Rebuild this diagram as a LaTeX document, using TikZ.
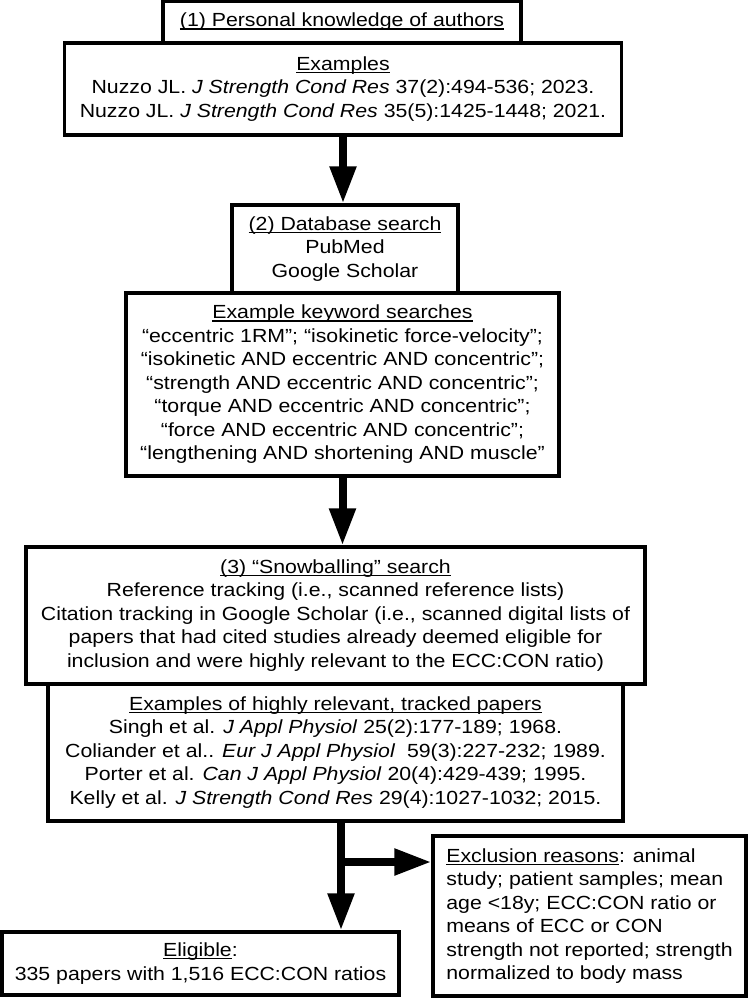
\documentclass[tikz,border=0pt]{standalone}
\usepackage{fontspec}
\setmainfont{Liberation Sans}[FakeStretch=1.12]
\newcommand\myul[1]{\setbox0\hbox{#1}\rlap{\rule[-2.6pt]{\wd0}{1.1pt}}\box0}
\usetikzlibrary{arrows.meta}
\tikzset{
  box/.style={draw, line width=3.2pt, rectangle, inner sep=0pt, align=center,
    font=\fontsize{19}{23.5}\selectfont},
  flow/.style={line width=8pt, -{Triangle[length=37pt,width=25pt]}}
}
\begin{document}
\begin{tikzpicture}[x=1pt,y=-1pt]
\useasboundingbox (0,0) rectangle (749,998);
\node[box, minimum width=358pt, minimum height=41.5pt] (b1) at (342,22)
  {\myul{(1) Personal knowledge of authors}};
\node[box, minimum width=557pt, minimum height=92pt] (b1b) at (343,89)
  {\myul{Examples}\\
   Nuzzo JL. \textit{J Strength Cond Res} 37(2):494-536; 2023.\\
   Nuzzo JL. \textit{J Strength Cond Res} 35(5):1425-1448; 2021.};
\node[box, minimum width=226pt, minimum height=88pt] (b2) at (345,249)
  {\myul{(2) Database search}\\PubMed\\Google Scholar};
\node[box, minimum width=433pt, minimum height=183pt] (b2b) at (342.5,384.5)
  {\myul{Example keyword searches}\\
   “eccentric 1RM”; “isokinetic force-velocity”;\\
   “isokinetic AND eccentric AND concentric”;\\
   “strength AND eccentric AND concentric”;\\
   “torque AND eccentric AND concentric”;\\
   “force AND eccentric AND concentric”;\\
   “lengthening AND shortening AND muscle”};
\node[box, minimum width=619pt, minimum height=137pt] (b3) at (335.5,615.5)
  {\myul{(3) “Snowballing” search}\\
   Reference tracking (i.e., scanned reference lists)\\
   Citation tracking in Google Scholar (i.e., scanned digital lists of\\
   papers that had cited studies already deemed eligible for\\
   inclusion and were highly relevant to the ECC:CON ratio)};
\node[box, minimum width=575pt, minimum height=137pt] (b3b) at (335.5,752.5)
  {\myul{Examples of highly relevant, tracked papers}\\
   Singh et al. \textit{J Appl Physiol} 25(2):177-189; 1968.\\
   Coliander et al.. \textit{Eur J Appl Physiol}\ \ 59(3):227-232; 1989.\\
   Porter et al. \textit{Can J Appl Physiol} 20(4):429-439; 1995.\\
   Kelly et al. \textit{J Strength Cond Res} 29(4):1027-1032; 2015.};
\node[box, align=left, minimum width=313pt, minimum height=160pt] (excl) at (589.5,916)
  {\myul{Exclusion reasons}: animal\\
   study; patient samples; mean\\
   age <18y; ECC:CON ratio or\\
   means of ECC or CON\\
   strength not reported; strength\\
   normalized to body mass};
\node[box, minimum width=397pt, minimum height=63pt] (elig) at (200.5,963.5)
  {\myul{Eligible}:\\335 papers with 1,516 ECC:CON ratios};
\coordinate (split) at (341,862);
\draw[flow] (b1b.south) -- (b1b.south |- b2.north);
\draw[flow] (b2b.south) -- (b2b.south |- b3.north);
\draw[flow] (split |- b3b.south) -- (split |- elig.north);
\draw[flow] (split) -- (split -| excl.west);
\end{tikzpicture}
\end{document}
